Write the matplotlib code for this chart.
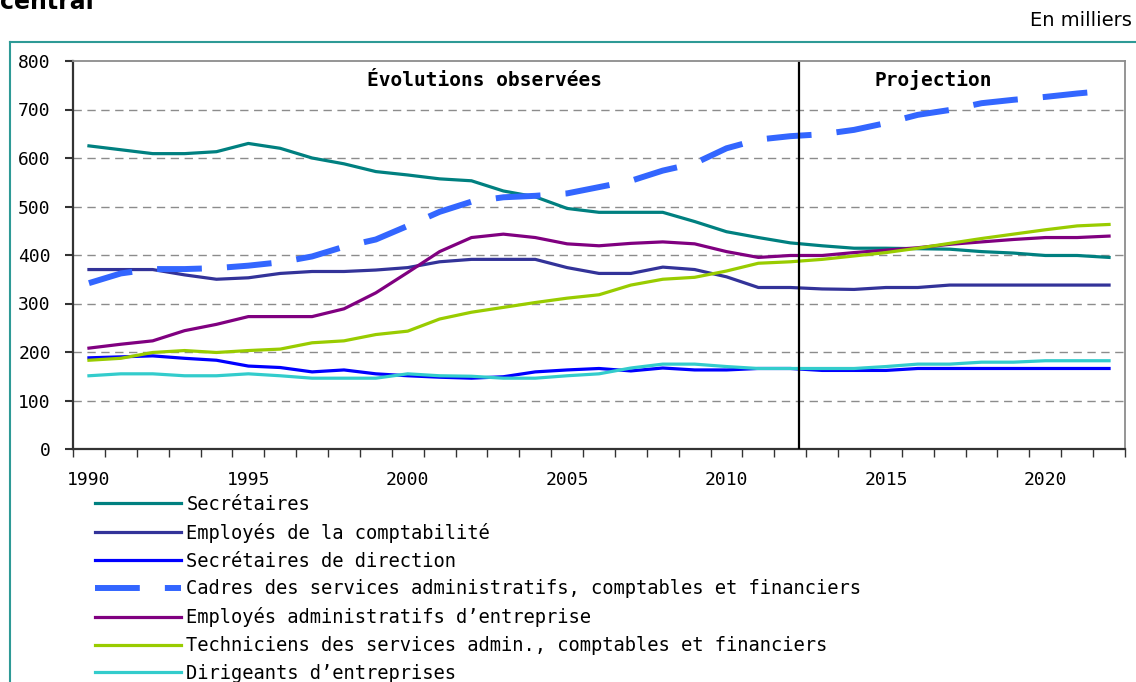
import numpy as np
import matplotlib.pyplot as plt
from matplotlib.lines import Line2D

# ==== DATA (en milliers) ====
years = list(range(1990, 2023))

secretaires = [625, 617, 609, 609, 613, 630, 620, 600, 588, 572, 565, 557,
               553, 532, 520, 496, 488, 488, 488, 469, 448, 436, 425, 419,
               414, 414, 413, 412, 407, 404, 399, 399, 395]
employes_compta = [370, 370, 370, 359, 350, 353, 362, 366, 366, 369, 374, 386,
                   391, 391, 391, 374, 362, 362, 375, 370, 355, 333, 333, 330,
                   329, 333, 333, 338, 338, 338, 338, 338, 338]
secr_direction = [188, 190, 192, 187, 183, 171, 168, 159, 163, 155, 151, 148,
                  146, 149, 159, 163, 166, 161, 167, 163, 163, 166, 166, 162,
                  162, 162, 166, 166, 166, 166, 166, 166, 166]
cadres = [342, 362, 371, 371, 373, 378, 385, 397, 417, 432, 460, 489,
          510, 519, 522, 527, 540, 553, 574, 589, 620, 638, 645, 649,
          658, 672, 689, 699, 713, 720, 726, 733, 739]
employes_admin = [208, 216, 223, 244, 257, 273, 273, 273, 289, 322, 364, 407,
                  436, 443, 436, 423, 419, 424, 427, 423, 407, 395, 399, 399,
                  405, 410, 415, 422, 427, 432, 436, 436, 439]
techniciens = [183, 187, 199, 203, 199, 203, 206, 219, 223, 236, 243, 268,
               282, 292, 302, 311, 318, 338, 350, 354, 367, 383, 386, 391,
               398, 405, 414, 424, 434, 443, 452, 460, 463]
dirigeants = [151, 155, 155, 151, 151, 155, 151, 146, 146, 146, 155, 151,
              150, 146, 146, 151, 155, 167, 175, 175, 170, 166, 166, 166,
              166, 170, 175, 175, 179, 179, 182, 182, 182]

labels = ["Secrétaires",
          "Employés de la comptabilité",
          "Secrétaires de direction",
          "Cadres des services administratifs, comptables et financiers",
          "Employés administratifs d\u2019entreprise",
          "Techniciens des services admin., comptables et financiers",
          "Dirigeants d\u2019entreprises"]
colors = ["#008080", "#333399", "#0000FF", "#3366FF", "#800080", "#99CC00", "#33CCCC"]
series = [secretaires, employes_compta, secr_direction, cadres,
          employes_admin, techniciens, dirigeants]

year_labels = [1990, 1995, 2000, 2005, 2010, 2015, 2020]
y_ticks = [0, 100, 200, 300, 400, 500, 600, 700, 800]

MONO = ['DejaVu Sans Mono', 'DejaVu Sans']
plt.rcParams['font.family'] = MONO

fig = plt.figure(figsize=(11.36, 6.82), dpi=100)
ax = fig.add_axes([73 / 1136, 1 - 449 / 682, (1125 - 73) / 1136, (449 - 61) / 682])

handles = []
for vals, col, lab in zip(series, colors, labels):
    if col == "#3366FF":
        ln, = ax.plot(years, vals, color=col, lw=4.3, dashes=(7.5, 4.2),
                      dash_capstyle='butt', label=lab, zorder=3)
    else:
        ln, = ax.plot(years, vals, color=col, lw=2.3, label=lab, zorder=3,
                      solid_joinstyle='round')
    handles.append(ln)

ax.set_xlim(1989.5, 2022.5)
ax.set_ylim(0, 800)

# grid
for v in y_ticks[1:-1]:
    ax.axhline(v, color="#8c8c8c", lw=1, dashes=(6, 4), zorder=1)

# vertical separation observations / projection
ax.axvline(2012.27, color="black", lw=1.6, ymax=0.995, zorder=4)

ax.text(2002.4, 760, "Évolutions observées", ha="center", va="center",
        fontsize=14, fontweight="bold")
ax.text(2016.5, 760, "Projection", ha="center", va="center",
        fontsize=14, fontweight="bold")

# ticks
ax.set_yticks(y_ticks)
ax.set_yticklabels([str(v) for v in y_ticks], fontsize=13)
ax.set_xticks(np.arange(1989.5, 2023.0, 1.0))
ax.set_xticklabels([])
ax.set_xticks(year_labels, minor=True)
ax.set_xticklabels([str(y) for y in year_labels], minor=True, fontsize=13)
ax.tick_params(axis="x", which="major", direction="out", length=6, width=1, color="#333333")
ax.tick_params(axis="x", which="minor", length=0, pad=16)
ax.tick_params(axis="y", direction="out", length=6, width=1.5, color="#333333", pad=10)

for s in ["left", "bottom"]:
    ax.spines[s].set_color("#333333")
    ax.spines[s].set_linewidth(1.6)
for s in ["top", "right"]:
    ax.spines[s].set_color("#8c8c8c")
    ax.spines[s].set_linewidth(1.3)

# legend below
fig.legend(handles=handles, labels=labels, loc="upper left",
           bbox_to_anchor=(95 / 1136, 1 - 495 / 682), frameon=False,
           fontsize=13.5, handlelength=4.6, handletextpad=0.27,
           labelspacing=0.47, borderaxespad=0, borderpad=0)

# frame and header
fig.add_artist(Line2D([10 / 1136, 1.0], [1 - 42 / 682, 1 - 42 / 682],
                      color="#2E9A96", lw=1.5, transform=fig.transFigure))
fig.add_artist(Line2D([10 / 1136, 10 / 1136], [0, 1 - 42 / 682],
                      color="#2E9A96", lw=1.5, transform=fig.transFigure))
fig.text(1132 / 1136, 1 - 20 / 682, "En milliers", ha="right", va="center",
         fontsize=14, family="DejaVu Sans")
fig.text(0.0, 1 - 9 / 682, "central", ha="left", va="baseline",
         fontsize=17, fontweight="bold", family="DejaVu Sans")

fig.savefig("out.png", dpi=100)
